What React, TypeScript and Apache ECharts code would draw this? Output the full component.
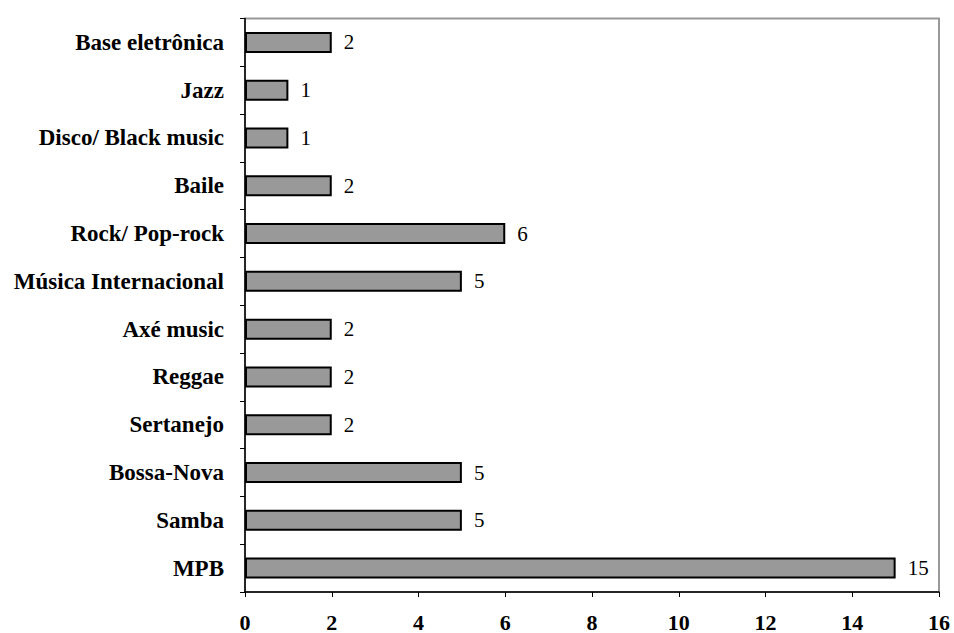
import React, { useEffect, useRef } from "react";
import * as echarts from "echarts";

const categories = [
  "MPB",
  "Samba",
  "Bossa-Nova",
  "Sertanejo",
  "Reggae",
  "Axé music",
  "Música Internacional",
  "Rock/ Pop-rock",
  "Baile",
  "Disco/ Black music",
  "Jazz",
  "Base eletrônica",
];
const values = [15, 5, 5, 2, 2, 2, 5, 6, 2, 1, 1, 2];
const xMin = 0;
const xMax = 16;
const xInterval = 2;

const FONT = "'Liberation Serif', 'Times New Roman', serif";

export default function App() {
  const ref = useRef<HTMLDivElement>(null);
  useEffect(() => {
    if (!ref.current) return;
    const chart = echarts.init(ref.current, null, { renderer: "svg" });
    chart.setOption({
      animation: false,
      backgroundColor: "#ffffff",
      grid: {
        left: 245,
        top: 18.5,
        right: 15,
        bottom: 41,
        containLabel: false,
        show: true,
        borderColor: "#999999",
        borderWidth: 2,
        backgroundColor: "transparent",
      },
      xAxis: {
        type: "value",
        min: xMin,
        max: xMax,
        interval: xInterval,
        splitLine: { show: false },
        axisLine: { show: true, lineStyle: { color: "#000", width: 1.5 } },
        axisTick: { show: true, inside: false, length: 5, lineStyle: { color: "#000", width: 1 } },
        axisLabel: {
          margin: 19,
          color: "#000",
          fontFamily: FONT,
          fontWeight: "bold",
          fontSize: 22,
        },
      },
      yAxis: {
        type: "category",
        data: categories,
        axisLine: { show: true, lineStyle: { color: "#000", width: 1.5 } },
        axisTick: { show: true, inside: false, length: 5, lineStyle: { color: "#000", width: 1 } },
        axisLabel: {
          margin: 21,
          color: "#000",
          fontFamily: FONT,
          fontWeight: "bold",
          fontSize: 23,
        },
      },
      series: [
        {
          type: "bar",
          data: values,
          barWidth: 21,
          itemStyle: { color: "#999999", borderColor: "#000", borderWidth: 2 },
          label: {
            show: true,
            position: "right",
            distance: 12,
            color: "#000",
            fontFamily: FONT,
            fontSize: 21,
          },
        },
      ],
    });
    return () => chart.dispose();
  }, []);
  return (
    <div
      ref={ref}
      style={{ position: "fixed", left: 0, top: 0, width: 954, height: 633 }}
    />
  );
}
